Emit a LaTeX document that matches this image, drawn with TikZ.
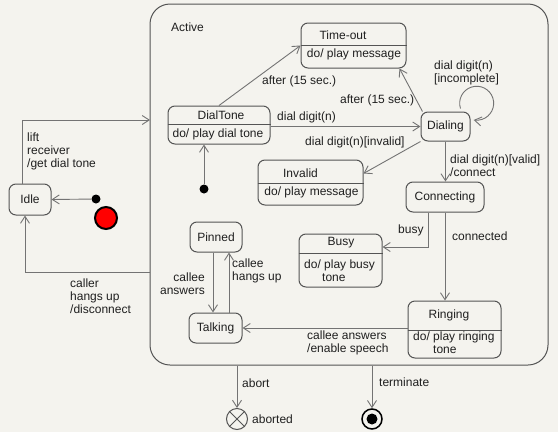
\documentclass[tikz,border=0pt]{standalone}
\usepackage{fontspec}
\setmainfont{Liberation Sans}
\usetikzlibrary{arrows.meta}
\newlength{\du}
\setlength{\du}{1\unitlength}
\definecolor{bgcolor}{rgb}{0.955,0.951,0.935}
\definecolor{boxcolor}{rgb}{0.330000, 0.330000, 0.330000}
\definecolor{linecolor}{rgb}{0.450000, 0.450000, 0.450000}
\definecolor{textcolor}{rgb}{0.120000, 0.120000, 0.120000}

\begin{document}
\begin{tikzpicture}[
  font=\fontsize{12}{13}\selectfont,
  txt/.style={inner sep=0pt, text=textcolor},
  lbl/.style={txt, anchor=west, align=left},
  state/.style={draw=boxcolor, line width=1\du, rounded corners=7\du, inner sep=0pt, text=textcolor},
  divider/.style={draw=boxcolor, line width=1\du},
  trans/.style={draw=linecolor, line width=0.9\du, -{Straight Barb[length=7pt,width=9pt]}},
  dot/.style={circle, fill=black, inner sep=0pt, minimum size=9\du},
]
\pgftransformxscale{1.000000}
\pgftransformyscale{-1.000000}
\fill[bgcolor] (0\du,0\du) rectangle (558\du,432\du);
\useasboundingbox (0\du,0\du) rectangle (558\du,432\du);
% composite state
\node[state, rounded corners=20\du, minimum width=398\du, minimum height=361\du] (active) at (349\du,184.5\du) {};
\node[lbl] (lblactive) at (171\du,27\du) {Active};
\coordinate (entry) at (150\du,120\du);
\coordinate (exit) at (150\du,272\du);
% states with an activity
\node[state, minimum width=105\du, minimum height=45\du] (timeout) at (353.5\du,45.5\du) {};
\draw[divider] ([yshift=-0.5\du]timeout.west) -- ([yshift=-0.5\du]timeout.east);
\node[txt] (timeouttitle) at (343\du,35\du) {Time-out};
\node[txt] (timeoutact) at (354\du,54\du) {do/ play message};
\node[state, minimum width=102\du, minimum height=38\du] (dialtone) at (219\du,125\du) {};
\draw[divider] ([yshift=-1\du]dialtone.west) -- ([yshift=-1\du]dialtone.east);
\node[txt] (dialtonetitle) at (221\du,115\du) {DialTone};
\node[txt] (dialtoneact) at (218\du,134.5\du) {do/ play dial tone};
\node[state, minimum width=105\du, minimum height=45\du] (invalid) at (310.5\du,182.5\du) {};
\draw[divider] ([yshift=0.5\du]invalid.west) -- ([yshift=0.5\du]invalid.east);
\node[txt] (invalidtitle) at (300.5\du,173\du) {Invalid};
\node[txt] (invalidact) at (311.5\du,192\du) {do/ play message};
\node[state, minimum width=83\du, minimum height=53\du] (busy) at (340.5\du,260.5\du) {};
\draw[divider] ([yshift=-7.5\du]busy.west) -- ([yshift=-7.5\du]busy.east);
\node[txt] (busytitle) at (341\du,243\du) {Busy};
\node[lbl] (busyact) at (304\du,271\du) {do/ play busy\\\hspace*{18\du}tone};
\node[state, minimum width=93\du, minimum height=57\du] (ringing) at (454.5\du,329.5\du) {};
\draw[divider] ([yshift=0.5\du]ringing.west) -- ([yshift=0.5\du]ringing.east);
\node[txt] (ringingtitle) at (449\du,315\du) {Ringing};
\node[lbl] (ringingact) at (413\du,343\du) {do/ play ringing\\\hspace*{20\du}tone};
% simple states
\node[state, minimum width=49\du, minimum height=29\du] (dialing) at (445.5\du,126.5\du) {Dialing};
\node[state, minimum width=78\du, minimum height=30\du] (connecting) at (445\du,197\du) {Connecting};
\node[state, minimum width=52\du, minimum height=30\du] (pinned) at (216\du,237\du) {Pinned};
\node[state, minimum width=53\du, minimum height=30\du] (talking) at (215.5\du,328\du) {Talking};
\node[state, minimum width=42\du, minimum height=31\du] (idle) at (30\du,199.5\du) {Idle};
% pseudo states
\node[dot] (idleinit) at (96\du,199\du) {};
\node[dot] (dialtoneinit) at (204\du,189\du) {};
\node[circle, fill=red, draw=black, line width=2\du, minimum size=22\du, inner sep=0pt] (reddot) at (106\du,218\du) {};
\node[circle, draw=boxcolor, line width=1\du, minimum size=21\du, inner sep=0pt] (aborted) at (237\du,419\du) {};
\draw[divider] (aborted.north east) -- (aborted.south west) (aborted.north west) -- (aborted.south east);
\node[lbl] (lblaborted) at (252\du,419\du) {aborted};
\node[circle, draw=black, line width=1.5\du, minimum size=20\du, inner sep=0pt] (final) at (372\du,419\du) {};
\node[dot, minimum size=11\du] (finaldot) at (final) {};
% transitions
\draw[trans] (idleinit) -- (idle.east);
\draw[trans] ([xshift=-8\du]idle.north) |- (entry);
\node[lbl] (lbllift) at (27\du,151.5\du) {lift\\receiver\\/get dial tone};
\draw[trans] (exit) -| ([xshift=-5\du]idle.south);
\node[lbl] (lblcaller) at (70\du,296\du) {caller\\hangs up\\/disconnect};
\draw[trans] (dialtoneinit) -- (dialtoneinit |- dialtone.south);
\draw[trans] (dialtone.north) -- (timeout.west);
\node[lbl] (lblafterone) at (262\du,81\du) {after (15 sec.)};
\draw[trans] ([xshift=2\du]dialing.north west) -- ([xshift=-7\du]timeout.south east);
\node[lbl] (lblaftertwo) at (340\du,100\du) {after (15 sec.)};
\draw[trans] (dialtone.east |- dialing.west) -- (dialing.west);
\node[lbl] (lbldigit) at (277\du,117\du) {dial digit(n)};
\draw[trans] (dialing.north) ++(15\du,-3\du) arc[start angle=162, end angle=460, radius=17\du];
\node[lbl] (lblincomplete) at (434\du,73\du) {dial digit(n)\\{[incomplete]}};
\draw[trans] (dialing.south west) -- ([yshift=-9\du]invalid.east);
\node[lbl] (lblinvalid) at (305\du,142\du) {dial digit(n)[invalid]};
\draw[trans] (dialing.south) -- (dialing.south |- connecting.north);
\node[lbl] (lblvalid) at (450\du,166\du) {dial digit(n)[valid]\\/connect};
\draw[trans] ([xshift=-17\du]connecting.south) |- ([yshift=-13.5\du]busy.east);
\node[lbl] (lblbusy) at (398\du,230\du) {busy};
\draw[trans] (connecting.south) -- (connecting.south |- ringing.north);
\node[lbl] (lblconnected) at (452\du,236\du) {connected};
\draw[trans] (ringing.west |- talking.east) -- (talking.east);
\node[lbl] (lblspeech) at (307\du,342.5\du) {callee answers\\/enable speech};
\draw[trans] ([xshift=-3\du]pinned.south) -- ([xshift=-2.5\du]talking.north);
\node[lbl, anchor=east, align=right] (lblanswers) at (205\du,283.5\du) {callee\\answers};
\draw[trans] ([xshift=13.5\du]talking.north) -- ([xshift=13\du]pinned.south);
\node[lbl] (lblhangs) at (232\du,271\du) {callee\\hangs up};
\draw[trans] (aborted |- active.south) -- (aborted.north);
\node[lbl] (lblabort) at (242\du,383\du) {abort};
\draw[trans] (final |- active.south) -- (final.north);
\node[lbl] (lblterminate) at (379\du,382\du) {terminate};
\end{tikzpicture}
\end{document}
